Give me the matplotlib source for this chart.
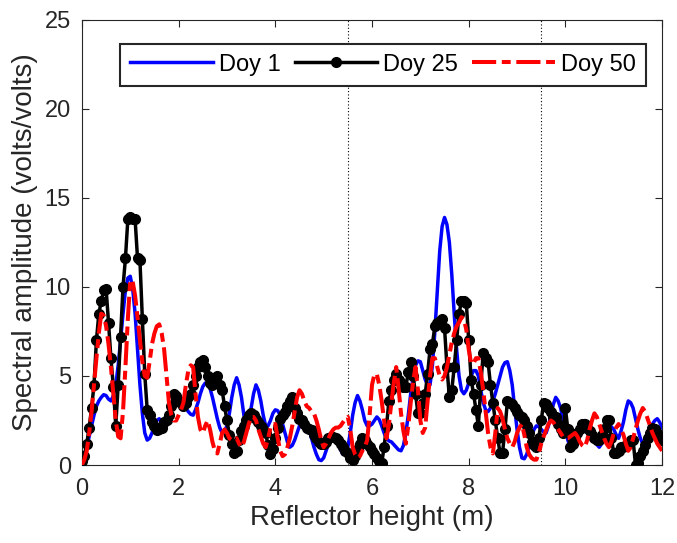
import numpy as np
import matplotlib
matplotlib.use("Agg")
import matplotlib.pyplot as plt

plt.rcParams['font.family'] = ['Liberation Sans', 'DejaVu Sans']

heights = [round(0.05 * i, 2) for i in range(241)]

doy1 = [0.3, 0.6, 1.0, 1.6, 2.2, 2.8, 3.3, 3.6, 3.8, 3.95,
        3.9, 3.7, 3.6, 3.9, 4.5, 5.6, 7.0, 8.5, 9.8, 10.5,
        10.6, 9.9, 8.5, 6.5, 4.5, 2.9, 1.8, 1.4, 1.5, 1.8,
        2.2, 2.5, 2.6, 2.45, 2.3, 2.5, 2.8, 3.2, 3.5, 3.75,
        3.8, 3.65, 3.4, 3.2, 3.0, 2.85, 2.8, 3.1, 3.5, 4.0,
        4.4, 4.6, 4.6, 4.3, 3.8, 3.2, 2.6, 2.1, 1.8, 1.9,
        2.2, 2.9, 3.8, 4.5, 4.9, 4.5, 3.8, 2.8, 2.1, 2.5,
        3.2, 4.0, 4.5, 4.2, 3.6, 2.8, 2.2, 2.2, 2.5, 2.9,
        3.1, 3.05, 2.8, 2.3, 1.8, 1.3, 1.0, 1.1, 1.4, 1.8,
        2.2, 2.5, 2.6, 2.4, 2.0, 1.5, 1.0, 0.6, 0.3, 0.25,
        0.4, 0.8, 1.2, 1.5, 1.6, 1.45, 1.2, 0.85, 0.6, 0.65,
        1.0, 1.8, 2.8, 3.5, 3.9, 3.6, 3.1, 2.5, 2.2, 2.2,
        2.3, 2.5, 2.7, 2.55, 2.2, 1.8, 1.5, 1.35, 1.3, 1.15,
        1.0, 0.85, 0.8, 1.1, 1.8, 2.8, 4.0, 4.9, 5.6, 5.85,
        5.8, 5.3, 4.8, 4.5, 4.5, 5.6, 7.5, 9.8, 12.0, 13.4,
        13.9, 13.5, 12.5, 10.7, 8.5, 6.5, 5.0, 4.2, 4.0, 4.2,
        4.6, 5.0, 5.3, 5.3, 5.0, 4.2, 3.5, 3.1, 3.0, 3.2,
        3.6, 4.0, 4.5, 5.0, 5.5, 5.75, 5.8, 5.3, 4.5, 3.2,
        2.0, 1.0, 0.4, 0.35, 0.6, 1.1, 1.6, 2.0, 2.2, 2.15,
        2.0, 1.85, 1.8, 2.2, 2.8, 3.4, 3.8, 3.6, 3.2, 2.6,
        2.0, 1.4, 1.0, 1.1, 1.4, 1.8, 2.2, 2.45, 2.5, 2.3,
        2.0, 1.7, 1.4, 1.15, 1.0, 1.2, 1.5, 1.9, 2.2, 2.15,
        2.0, 1.7, 1.5, 1.9, 2.4, 3.1, 3.6, 3.5, 3.2, 2.6,
        2.0, 1.5, 1.2, 1.25, 1.5, 1.9, 2.3, 2.5, 2.6, 2.4,
        2.1]

doy25 = [0.2, 0.5, 1.2, 2.1, 3.2, 4.5, 7.0, 8.5, 9.2, 9.8,
         9.9, 8.0, 6.0, 4.4, 2.2, 4.5, 7.2, 10.0, 11.6, 13.8,
         13.9, 13.8, 13.8, 11.6, 11.5, 8.2, 5.1, 3.1, 2.8, 2.4,
         2.2, 1.95, 2.0, 2.1, 2.4, 2.5, 2.8, 3.3, 4.0, 3.9,
         3.6, 3.5, 3.3, 3.5, 3.8, 4.0, 4.5, 5.0, 5.5, 5.8,
         5.9, 5.5, 5.0, 4.6, 4.5, 4.8, 5.0, 4.5, 4.2, 3.3,
         2.5, 1.7, 1.2, 0.7, 0.8, 1.4, 1.9, 2.2, 2.5, 2.8,
         2.9, 2.8, 2.6, 2.4, 2.2, 2.0, 1.8, 1.1, 0.6, 0.9,
         1.5, 2.1, 2.6, 2.8, 3.0, 3.3, 3.6, 3.8, 3.2, 2.9,
         2.6, 2.5, 2.3, 2.1, 2.0, 1.95, 1.7, 1.5, 1.3, 1.2,
         1.2, 1.3, 1.5, 1.6, 1.6, 1.5, 1.4, 1.2, 1.0, 0.8,
         0.7, 0.4, 0.3, 0.5, 0.9, 1.2, 1.5, 1.4, 1.2, 1.0,
         0.8, 0.6, 0.4, 0.2, 0.1, 1.0, 2.2, 3.6, 4.2, 4.8,
         5.1, 4.8, 4.6, 4.4, 4.4, 5.2, 5.8, 5.0, 4.0, 2.9,
         2.9, 3.5, 4.0, 5.1, 6.5, 6.8, 7.8, 8.0, 8.1, 8.2,
         7.7, 5.5, 3.8, 4.2, 5.5, 7.0, 8.5, 9.2, 9.2, 9.1,
         7.0, 4.8, 4.0, 3.1, 2.2, 4.5, 6.3, 6.0, 5.8, 4.5,
         3.5, 2.5, 1.5, 0.65, 0.7, 2.0, 3.6, 3.5, 3.4, 3.2,
         3.0, 2.8, 2.7, 2.5, 2.2, 1.8, 1.3, 1.1, 1.0, 1.5,
         2.5, 3.5, 3.4, 3.2, 3.0, 2.7, 2.7, 2.3, 2.0, 1.8,
         3.2, 2.0, 1.0, 1.2, 1.5, 1.8, 2.0, 2.3, 2.3, 2.1,
         1.9, 1.7, 1.5, 1.4, 1.4, 1.7, 2.0, 2.5, 2.5, 1.5,
         0.7, 0.7, 0.8, 1.0, 1.0, 1.1, 1.2, 1.4, 1.4, 0.0,
         0.1, 0.5, 0.8, 1.1, 1.5, 1.8, 2.1, 2.0, 1.8, 1.6,
         1.4]

doy50 = [0.0, 0.3, 0.8, 1.8, 3.0, 4.5, 6.0, 7.4, 8.5, 8.4,
         7.8, 6.8, 5.5, 4.0, 2.5, 1.6, 1.5, 3.0, 5.5, 8.2,
         10.4, 10.3, 9.5, 8.3, 7.0, 5.8, 5.0, 4.9, 5.8, 6.8,
         7.4, 7.8, 7.9, 7.4, 6.5, 5.0, 3.5, 2.8, 2.5, 2.5,
         2.8, 3.1, 3.5, 4.5, 5.3, 5.6, 5.5, 4.0, 2.7, 2.0,
         1.8, 2.2, 2.5, 2.0, 1.3, 0.8, 0.65, 1.2, 1.8, 2.0,
         1.8, 1.5, 1.4, 1.4, 1.5, 1.2, 1.0, 1.3, 1.8, 2.3,
         2.7, 2.7, 2.5, 2.0, 1.6, 1.2, 1.0, 1.5, 2.1, 2.3,
         2.3, 1.5, 0.8, 0.5, 0.6, 1.0, 1.5, 2.2, 3.0, 3.8,
         4.2, 4.0, 3.6, 3.3, 3.2, 3.0, 2.9, 2.5, 2.0, 1.4,
         1.0, 1.2, 1.5, 1.8, 2.0, 2.1, 2.1, 2.2, 2.4, 2.6,
         2.7, 2.0, 1.0, 0.6, 0.4, 0.5, 0.8, 1.0, 1.4, 2.8,
         4.5, 5.1, 5.1, 4.5, 3.6, 2.5, 1.5, 2.3, 3.5, 4.6,
         5.5, 4.3, 2.9, 1.9, 1.2, 2.2, 3.5, 4.7, 5.5, 4.2,
         2.5, 1.8, 2.1, 3.6, 5.0, 6.0, 6.0, 5.5, 5.0, 4.8,
         5.0, 5.5, 6.2, 6.9, 7.4, 7.8, 8.0, 8.3, 8.2, 7.6,
         6.5, 5.7, 5.7, 6.0, 6.0, 5.2, 4.2, 3.0, 1.8, 1.0,
         0.65, 1.8, 3.2, 3.0, 2.6, 2.0, 1.5, 1.2, 1.0, 1.3,
         1.8, 2.1, 2.3, 1.7, 1.0, 0.6, 0.4, 0.3, 0.3, 0.7,
         1.2, 1.6, 1.95, 2.3, 2.5, 2.4, 2.2, 2.0, 1.8, 1.6,
         1.5, 1.5, 1.6, 1.7, 1.8, 1.6, 1.3, 1.1, 1.0, 1.4,
         2.0, 2.5, 2.9, 2.7, 2.3, 1.9, 1.5, 1.2, 1.0, 1.3,
         1.8, 2.1, 2.3, 2.0, 1.7, 1.2, 0.8, 1.0, 1.5, 2.0,
         2.5, 2.9, 3.2, 3.0, 2.6, 2.2, 1.8, 1.5, 1.2, 1.0,
         0.8]

vlines = [5.5, 9.5]
labels = ["Doy 1", "Doy 25", "Doy 50"]
xticks = [0, 2, 4, 6, 8, 10, 12]
yticks = [0, 5, 10, 15, 20, 25]

fig = plt.figure(figsize=(6.77, 5.43), dpi=100)
ax = fig.add_axes([0.121, 0.1436, 0.857, 0.82])

ax.plot(heights, doy1, color='#0000ff', lw=2.5, label=labels[0], zorder=3)
ax.plot(heights, doy25, color='black', lw=2.5, marker='o', ms=7,
        label=labels[1], zorder=4)
ax.plot(heights, doy50, color='#ff0000', lw=2.9, ls=(0, (6, 1.4, 2.2, 1.4)),
        label=labels[2], zorder=5)
for v in vlines:
    ax.axvline(v, color='black', lw=0.8, ls=(0, (1, 2)), zorder=1)

ax.set_xlim(0, 12)
ax.set_ylim(0, 25)
ax.set_xticks(xticks)
ax.set_yticks(yticks)
ax.tick_params(direction='in', top=True, right=True, labelsize=17,
               length=5, width=0.8, colors='#262626')
ax.tick_params(axis='x', pad=9)
ax.tick_params(axis='y', pad=8)
for s in ax.spines.values():
    s.set_color('#262626')
    s.set_linewidth(0.8)
ax.set_xlabel("Reflector height (m)", fontsize=20, color='#262626', labelpad=4)
ax.set_ylabel("Spectral amplitude (volts/volts)", fontsize=20, color='#262626', labelpad=5)

leg = ax.legend(loc='upper left', bbox_to_anchor=(0.066, 0.946), ncol=3,
                fontsize=17, handlelength=3.5, columnspacing=0.6,
                handletextpad=0.25, borderpad=0.42, numpoints=1,
                fancybox=False, framealpha=1, edgecolor='#262626',
                borderaxespad=0)
leg.get_frame().set_linewidth(1.5)
leg.set_zorder(10)

fig.savefig("out.png", dpi=100)
